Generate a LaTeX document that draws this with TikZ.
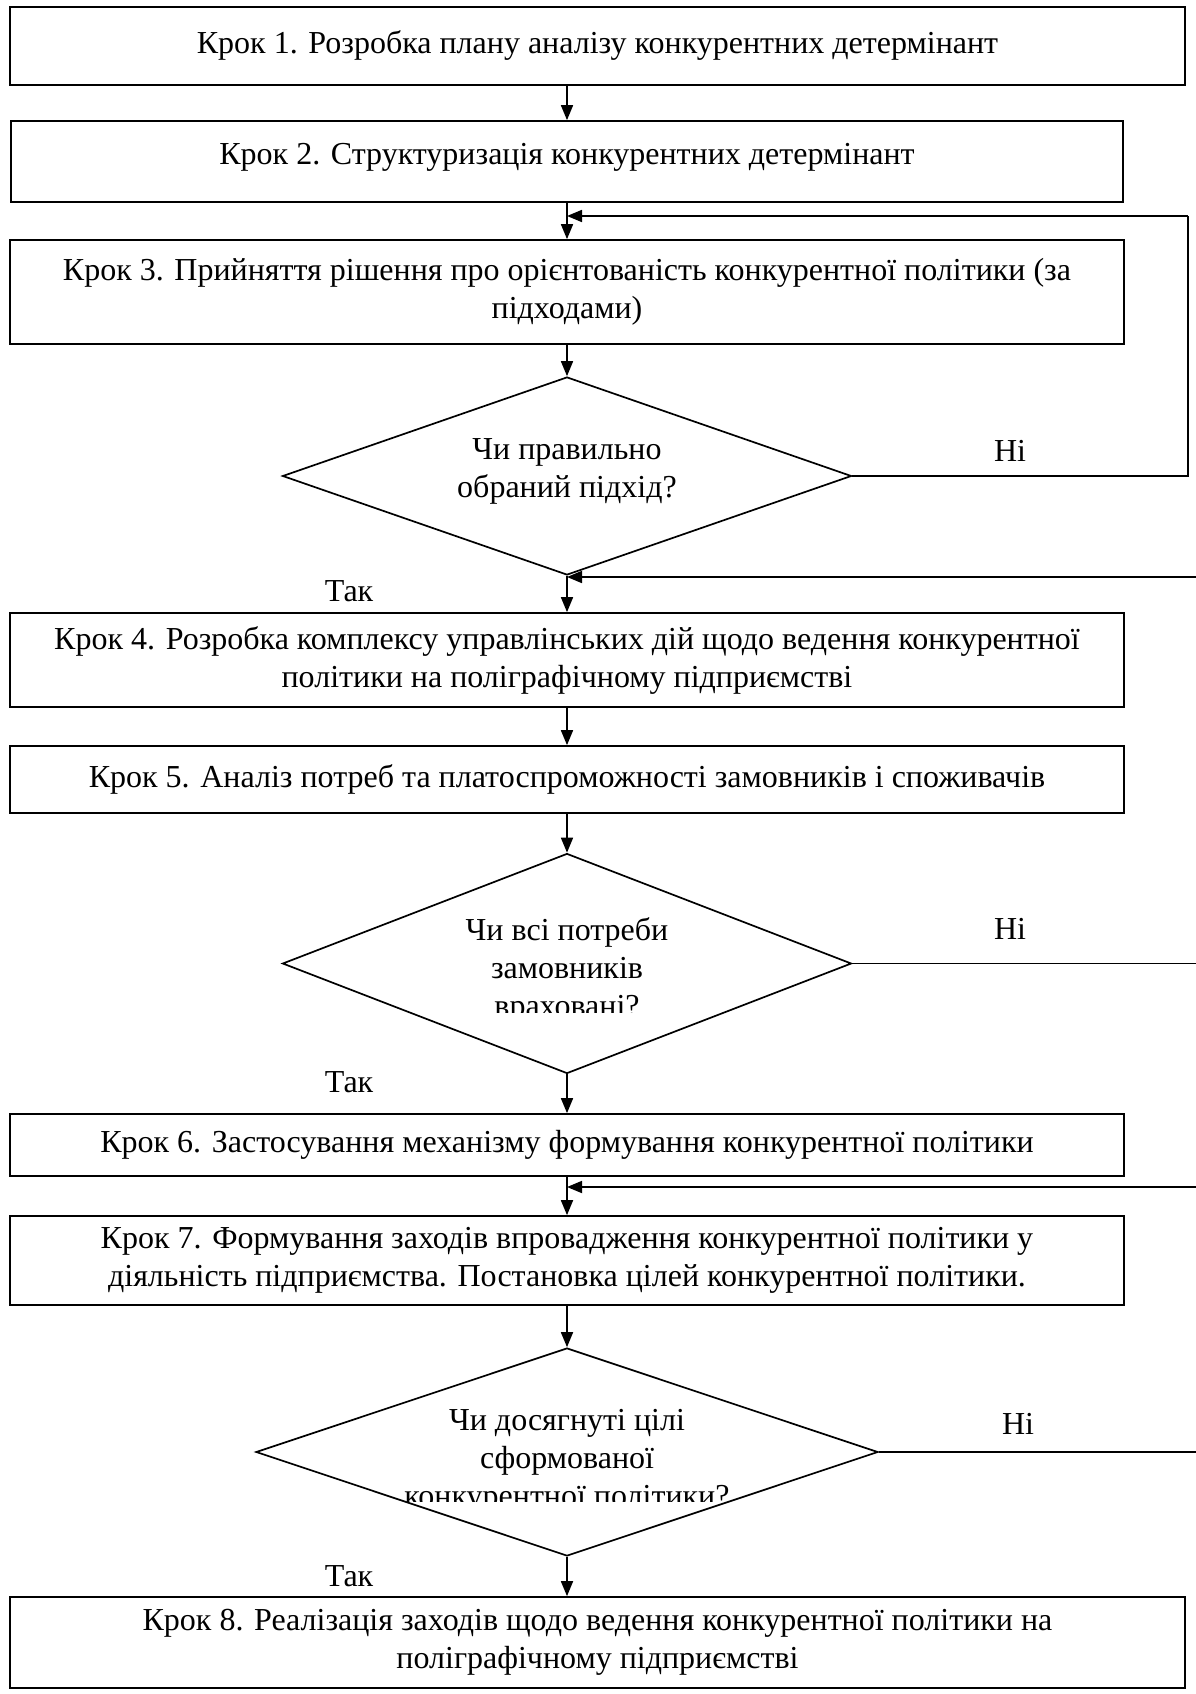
\documentclass[tikz,border=0pt]{standalone}
\usepackage{fontspec}
\setmainfont{Liberation Serif}
\usetikzlibrary{shapes.geometric,arrows.meta}
\newcommand\dfont{\fontsize{32}{38}\selectfont}
\begin{document}
\begin{tikzpicture}[x=1pt,y=-1pt,
  stepbox/.style={draw,line width=1.7pt,rectangle,inner sep=0pt,align=center,font=\dfont},
  decbox/.style={draw,line width=1.7pt,diamond,inner sep=0pt},
  dtext/.style={inner sep=0pt,align=center,font=\dfont},
  lbl/.style={inner sep=0pt,font=\dfont},
  conn/.style={line width=1.7pt},
  arr/.style={line width=1.7pt,-{Triangle[length=15pt,width=12pt]}}]
\useasboundingbox (0,0) rectangle (1195,1694);
% boxes
\node[stepbox,minimum width=1175pt,minimum height=78pt] (b1) at (597.5,46) {Крок 1. Розробка плану аналізу конкурентних детермінант};
\node[stepbox,minimum width=1112pt,minimum height=81pt,text depth=16pt] (b2) at (567,161.5) {Крок 2. Структуризація конкурентних детермінант};
\node[stepbox,minimum width=1114pt,minimum height=104pt] (b3) at (567,292) {Крок 3. Прийняття рішення про орієнтованість конкурентної політики (за\\підходами)};
\node[decbox,minimum width=569pt,minimum height=198pt] (d1) at (567,476) {};
\node[dtext] (t1) at (567,471) {Чи правильно\\обраний підхід?};
\node[stepbox,minimum width=1114pt,minimum height=94pt] (b4) at (567,660) {Крок 4. Розробка комплексу управлінських дій щодо ведення конкурентної\\політики на поліграфічному підприємстві};
\node[stepbox,minimum width=1114pt,minimum height=67pt] (b5) at (567,779.5) {Крок 5. Аналіз потреб та платоспроможності замовників і споживачів};
\node[decbox,minimum width=569pt,minimum height=220pt] (d2) at (567,963.5) {};
\begin{scope}
\clip (300,880) rectangle (840,1012);
\node[dtext] (t2) at (567,970) {Чи всі потреби\\замовників\\враховані?};
\end{scope}
\node[stepbox,minimum width=1114pt,minimum height=62pt] (b6) at (567,1145) {Крок 6. Застосування механізму формування конкурентної політики};
\node[stepbox,minimum width=1114pt,minimum height=89pt] (b7) at (567,1260.5) {Крок 7. Формування заходів впровадження конкурентної політики у\\діяльність підприємства. Постановка цілей конкурентної політики.};
\node[decbox,minimum width=622pt,minimum height=208pt] (d3) at (567,1452) {};
\begin{scope}
\clip (280,1380) rectangle (860,1501);
\node[dtext] (t3) at (567,1461) {Чи досягнуті цілі\\сформованої\\конкурентної політики?};
\end{scope}
\node[stepbox,minimum width=1175pt,minimum height=91pt] (b8) at (597.5,1642.5) {Крок 8. Реалізація заходів щодо ведення конкурентної політики на\\поліграфічному підприємстві};
% labels
\node[lbl] (n1) at (1010,451) {Ні};
\node[lbl] (n2) at (1010,929) {Ні};
\node[lbl] (n3) at (1018,1424) {Ні};
\node[lbl] (y1) at (349,591) {Так};
\node[lbl] (y2) at (349,1082) {Так};
\node[lbl] (y3) at (349,1576) {Так};
% helper coordinates
\coordinate (r1) at (1188,216);
\coordinate (j1) at (567,216);
\coordinate (j2) at (567,577);
\coordinate (e2) at (1200,577);
\coordinate (j3) at (567,1187);
\coordinate (e3) at (1200,1187);
\coordinate (f2) at (1200,963.5);
\coordinate (f3) at (1200,1452);
% connectors
\draw[arr] (b1.south -| b2.north) -- (b2.north);
\draw[arr] (b2.south) -- (b3.north);
\draw[arr] (b3.south) -- (d1.north);
\draw[conn] (d1.east) -| (r1);
\draw[arr] (r1) -- (j1);
\draw[arr] (d1.south) -- (b4.north);
\draw[arr] (e2) -- (j2);
\draw[arr] (b4.south) -- (b5.north);
\draw[arr] (b5.south) -- (d2.north);
\draw[conn] (d2.east) -- (f2);
\draw[arr] (d2.south) -- (b6.north);
\draw[arr] (b6.south) -- (b7.north);
\draw[arr] (e3) -- (j3);
\draw[arr] (b7.south) -- (d3.north);
\draw[conn] (d3.east) -- (f3);
\draw[arr] (d3.south) -- (d3.south |- b8.north);
\end{tikzpicture}
\end{document}
